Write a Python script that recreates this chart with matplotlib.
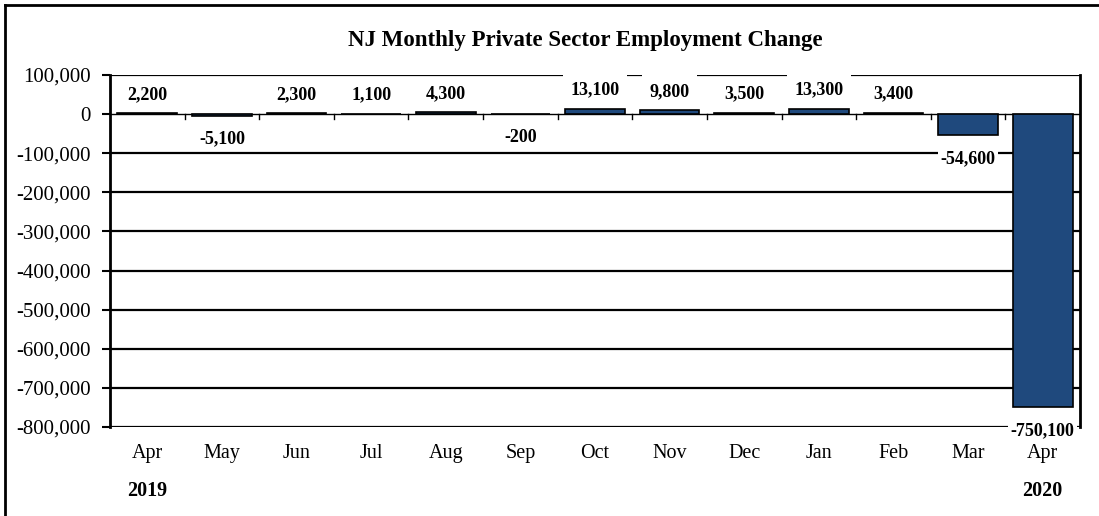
import numpy as np
import matplotlib
matplotlib.use("Agg")
from matplotlib import pyplot as plt
from matplotlib.lines import Line2D
from matplotlib.ticker import FuncFormatter

months = ["Apr", "May", "Jun", "Jul", "Aug", "Sep", "Oct", "Nov", "Dec", "Jan", "Feb", "Mar", "Apr"]
changes = [2200, -5100, 2300, 1100, 4300, -200, 13100, 9800, 3500, 13300, 3400, -54600, -750100]
years = ["2019", "2020"]
y_ticks = list(range(-800000, 100001, 100000))

plt.rcParams['font.family'] = ['Liberation Serif', 'DejaVu Serif']

fig = plt.figure(figsize=(10.99, 5.16), dpi=100)
ax = fig.add_axes([0.1001, 0.1725, 0.8826, 0.6822])

x = np.arange(len(months))
ax.bar(x, changes, width=0.8, color='#1F497D', edgecolor='black', linewidth=1.2, zorder=3)

ax.set_xlim(-0.5, len(months) - 0.5)
ax.set_ylim(-800000, 100000)
ax.set_yticks(y_ticks)
ax.yaxis.set_major_formatter(FuncFormatter(lambda v, p: f"{int(v):,}"))
ax.tick_params(axis='y', labelsize=15, length=6, width=1.5, direction='out', pad=8)

# horizontal gridlines
for yv in y_ticks:
    if yv == 0:
        continue
    ax.axhline(yv, color='black', linewidth=1.6, zorder=1)

# category axis sits at zero
ax.axhline(0, color='black', linewidth=1.0, zorder=2)
for b in np.arange(0.5, len(months) - 1, 1.0):
    ax.plot([b, b], [0, -12000], color='black', linewidth=1.0, zorder=2, clip_on=False)

ax.set_xticks([])
for s in ['top', 'bottom']:
    ax.spines[s].set_visible(False)
ax.spines['left'].set_linewidth(2)
ax.spines['right'].set_linewidth(2)

# month and year labels under the plot
for i, m in enumerate(months):
    ax.annotate(m, (i, 0), xycoords=('data', 'axes fraction'), xytext=(0, -19),
                textcoords='offset points', ha='center', va='center', fontsize=14.5)
ax.annotate(years[0], (0, 0), xycoords=('data', 'axes fraction'), xytext=(0, -46),
            textcoords='offset points', ha='center', va='center', fontsize=14.5, fontweight='bold')
ax.annotate(years[1], (len(months) - 1, 0), xycoords=('data', 'axes fraction'), xytext=(0, -46),
            textcoords='offset points', ha='center', va='center', fontsize=14.5, fontweight='bold')

# data labels (white boxes hide gridlines behind them)
for i, v in enumerate(changes):
    off = 13.5 if v >= 0 else -16.5
    pad = 0.42 if v >= 0 else 0.15
    ax.annotate(f"{v:,}", (i, v), xytext=(0, off), textcoords='offset points',
                ha='center', va='center', fontsize=13, fontweight='bold', zorder=5,
                annotation_clip=False,
                bbox=dict(boxstyle=f'square,pad={pad}', facecolor='white', edgecolor='none'))

fig.text(0.533, 0.922, "NJ Monthly Private Sector Employment Change",
         ha='center', va='center', fontsize=16.5, fontweight='bold')

# outer frame of the chart area
fig.add_artist(Line2D([0.005, 1.0], [0.991, 0.991], color='black', linewidth=2, transform=fig.transFigure))
fig.add_artist(Line2D([0.005, 0.005], [0.0, 0.991], color='black', linewidth=2, transform=fig.transFigure))

fig.savefig("out.png", dpi=100)
